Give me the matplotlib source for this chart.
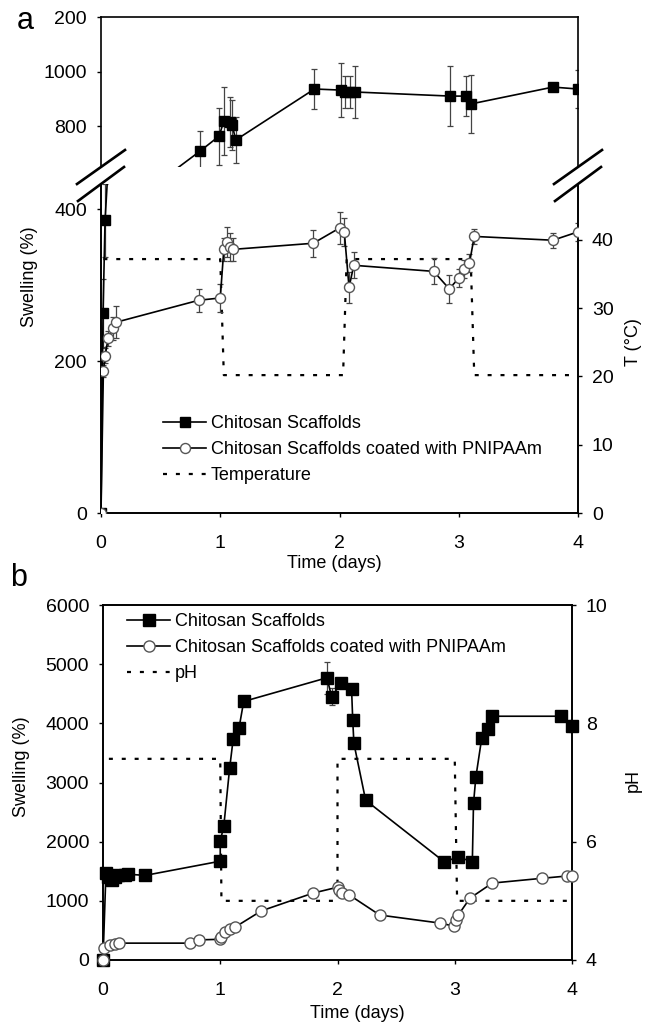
import matplotlib
matplotlib.use('Agg')
import matplotlib.pyplot as plt
from matplotlib.lines import Line2D

plt.rcParams['font.family'] = ['Liberation Sans', 'DejaVu Sans']
plt.rcParams['font.size'] = 13

# ---------------- Panel a data ----------------
a_sq_t = [0, 0.017, 0.034, 0.06, 0.83, 0.99, 1.03, 1.08, 1.10, 1.13, 1.79, 2.01, 2.05, 2.09,
          2.13, 2.93, 3.06, 3.10, 3.79, 4.0]
a_sq_v = [0, 263, 385, 456, 708, 763, 818, 815, 804, 749, 936, 932, 925, 925,
          925, 910, 910, 881, 943, 936]
a_sq_e = [0, 45, 48, 0, 75, 105, 125, 90, 90, 85, 75, 100, 60, 60,
          97, 110, 73, 105, 0, 70]

a_ci_t = [0, 0.02, 0.035, 0.06, 0.10, 0.125, 0.82, 1.0, 1.03, 1.06, 1.08, 1.11, 1.78,
          2.0, 2.04, 2.08, 2.12, 2.79, 2.92, 3.0, 3.04, 3.09, 3.13, 3.79, 4.0]
a_ci_v = [0, 187, 207, 230, 243, 251, 280, 283, 347, 357, 350, 347, 355,
          375, 370, 297, 326, 318, 295, 309, 321, 329, 364, 359, 370]
a_ci_e = [0, 8, 10, 10, 15, 21, 15, 18, 15, 20, 18, 15, 18,
          21, 18, 20, 17, 17, 18, 12, 12, 12, 10, 10, 12]

temp_t = [0.02, 1.0, 1.03, 2.03, 2.06, 3.10, 3.13, 4.0]
temp_v = [37.2, 37.2, 20.2, 20.2, 37.2, 37.2, 20.2, 20.2]

a_top_ticks = [800, 1000, 1200]
a_top_labels = ['800', '1000', '200']
a_bot_ticks = [0, 200, 400]
a_T_ticks = [0, 10, 20, 30, 40]

# ---------------- Panel b data ----------------
b_sq_t = [0, 0.025, 0.04, 0.075, 0.10, 0.13, 0.19, 0.21, 0.36, 1.0, 1.0, 1.03, 1.08, 1.11,
          1.16, 1.20, 1.91, 1.95, 2.03, 2.12, 2.13, 2.14, 2.24, 2.91, 3.03, 3.15, 3.16,
          3.18, 3.23, 3.28, 3.32, 3.91, 4.0]
b_sq_v = [0, 1470, 1400, 1350, 1400, 1440, 1440, 1450, 1430, 1670, 2010, 2260, 3240, 3730,
          3920, 4370, 4770, 4450, 4680, 4580, 4050, 3660, 2700, 1660, 1740, 1660, 2650,
          3090, 3750, 3900, 4120, 4120, 3950]
b_sq_e = [0, 60, 50, 50, 60, 60, 50, 50, 40, 40, 40, 40, 40, 40,
          80, 40, 270, 140, 40, 40, 40, 40, 40, 40, 40, 40, 40,
          40, 40, 40, 40, 60, 100]

b_ci_t = [0, 0.01, 0.06, 0.10, 0.14, 0.74, 0.82, 1.0, 1.01, 1.04, 1.08, 1.13, 1.35, 1.79,
          2.0, 2.01, 2.04, 2.10, 2.36, 2.87, 2.99, 3.01, 3.03, 3.13, 3.32, 3.74, 3.96, 4.0]
b_ci_v = [0, 200, 250, 270, 285, 285, 340, 350, 390, 470, 520, 560, 830, 1130,
          1230, 1180, 1130, 1100, 760, 625, 575, 675, 760, 1045, 1300, 1380, 1420, 1420]

ph_t = [0.05, 1.0, 1.01, 2.0, 2.0, 3.0, 3.02, 4.0]
ph_v = [7.4, 7.4, 5.0, 5.0, 7.4, 7.4, 5.0, 5.0]

b_ticks = [0, 1000, 2000, 3000, 4000, 5000, 6000]
ph_ticks = [4, 6, 8, 10]
x_ticks = [0, 1, 2, 3, 4]

lab_sq = 'Chitosan Scaffolds'
lab_ci = 'Chitosan Scaffolds coated with PNIPAAm'

# ---------------- styles ----------------
W, H = 646, 1027
LW = 1.2
SP = 1.2
TICKFS = 14
LEGFS = 13
LABFS = 13
circ_edge = '#555555'
dash = (0, (1.8, 4.0))

fig = plt.figure(figsize=(W / 100, H / 100), dpi=100)


def fx(px):
    return px / W


def fy(py):
    return 1 - py / H


ax_top = fig.add_axes([fx(101), fy(167), fx(578) - fx(101), fy(17) - fy(167)])
ax_bot = fig.add_axes([fx(101), fy(513), fx(578) - fx(101), fy(184) - fy(513)])
ax_T = ax_bot.twinx()
ax_b = fig.add_axes([fx(103), fy(960), fx(572) - fx(103), fy(605) - fy(960)])
ax_ph = ax_b.twinx()

for ax in (ax_top, ax_bot, ax_T, ax_b, ax_ph):
    for s in ax.spines.values():
        s.set_linewidth(SP)
    ax.tick_params(direction='out', length=3, width=1, labelsize=TICKFS)

# panel a series in both broken parts
for ax in (ax_top, ax_bot):
    ax.errorbar(a_sq_t, a_sq_v, yerr=a_sq_e, fmt='none', ecolor='#444444',
                elinewidth=0.9, capsize=2.5, capthick=0.9, zorder=2)
    ax.errorbar(a_ci_t, a_ci_v, yerr=a_ci_e, fmt='none', ecolor='#444444',
                elinewidth=0.9, capsize=2.5, capthick=0.9, zorder=2)
    ax.plot(a_sq_t, a_sq_v, '-', color='black', lw=LW, marker='s', ms=7.2,
            mfc='black', mec='black', zorder=3)
    ax.plot(a_ci_t, a_ci_v, '-', color='black', lw=LW, marker='o', ms=7.2,
            mfc='white', mec=circ_edge, mew=1.0, zorder=4)
    ax.set_xlim(0, 4)

ax_T.plot(temp_t, temp_v, color='black', lw=1.6, ls=dash)
ax_T.set_zorder(ax_bot.get_zorder() - 1)
ax_bot.patch.set_visible(False)
ax_T.set_ylim(0, 48.2)
ax_T.set_yticks(a_T_ticks)
ax_T.tick_params(axis='y', pad=7)
ax_T.spines['top'].set_visible(False)

ax_top.set_ylim(650, 1200)
ax_top.set_yticks(a_top_ticks)
ax_top.set_yticklabels(a_top_labels)
ax_top.set_xticks([])
ax_top.spines['bottom'].set_visible(False)
ax_top.tick_params(axis='y', pad=7)

ax_bot.set_ylim(0, 433)
ax_bot.set_yticks(a_bot_ticks)
ax_bot.set_xticks(x_ticks)
ax_bot.spines['top'].set_visible(False)
ax_bot.tick_params(axis='y', pad=7)
ax_bot.tick_params(axis='x', pad=13)

# break marks
kw = dict(color='black', lw=1.9, clip_on=False)
dx_t, dy_t = 24 / 477, 17 / 150
for x0 in (0, 1):
    ax_top.plot([x0 - dx_t, x0 + dx_t], [-dy_t, dy_t], transform=ax_top.transAxes, **kw)
dx_b, dy_b = 23 / 477, 17 / 329
for x0 in (0, 1):
    ax_bot.plot([x0 - dx_b, x0 + dx_b], [1 - dy_b, 1 + dy_b], transform=ax_bot.transAxes, **kw)

h_sq = Line2D([], [], color='black', lw=LW, marker='s', ms=7.2, mfc='black', mec='black')
h_ci = Line2D([], [], color='black', lw=LW, marker='o', ms=7.2, mfc='white', mec=circ_edge)
h_T = Line2D([], [], color='black', lw=1.6, ls=dash)
ax_bot.legend([h_sq, h_ci, h_T], [lab_sq, lab_ci, 'Temperature'], loc='upper left',
              bbox_to_anchor=(0.13, 0.297), frameon=False, fontsize=LEGFS,
              borderpad=0, borderaxespad=0, handlelength=2.4, handletextpad=0.25,
              labelspacing=0.5)

# ---------------- panel b ----------------
ax_b.errorbar(b_sq_t, b_sq_v, yerr=b_sq_e, fmt='none', ecolor='#444444',
              elinewidth=0.9, capsize=2.5, capthick=0.9, zorder=2)
ax_b.plot(b_sq_t, b_sq_v, '-', color='black', lw=LW, marker='s', ms=8,
          mfc='black', mec='black', zorder=3, clip_on=False)
ax_b.plot(b_ci_t, b_ci_v, '-', color='black', lw=LW, marker='o', ms=8,
          mfc='white', mec=circ_edge, mew=1.0, zorder=4, clip_on=False)
ax_ph.plot(ph_t, ph_v, color='black', lw=1.6, ls=dash)
ax_ph.set_zorder(ax_b.get_zorder() - 1)
ax_b.patch.set_visible(False)

ax_b.set_xlim(0, 4)
ax_b.set_ylim(0, 6000)
ax_b.set_yticks(b_ticks)
ax_b.set_xticks(x_ticks)
ax_b.tick_params(axis='y', pad=7)
ax_b.tick_params(axis='x', pad=13)
ax_ph.set_ylim(4, 10)
ax_ph.set_yticks(ph_ticks)
ax_ph.tick_params(axis='y', pad=7)

h_sq_b = Line2D([], [], color='black', lw=LW, marker='s', ms=8, mfc='black', mec='black')
h_ci_b = Line2D([], [], color='black', lw=LW, marker='o', ms=8, mfc='white', mec=circ_edge)
ax_b.legend([h_sq_b, h_ci_b, h_T], [lab_sq, lab_ci, 'pH'], loc='upper left',
            bbox_to_anchor=(0.051, 0.977), frameon=False, fontsize=LEGFS,
            borderpad=0, borderaxespad=0, handlelength=2.4, handletextpad=0.25,
            labelspacing=0.5)

# ---------------- labels ----------------
fig.text(fx(30), fy(277), 'Swelling (%)', rotation=90, ha='center', va='center', fontsize=LABFS)
fig.text(fx(633), fy(342), 'T (°C)', rotation=90, ha='center', va='center', fontsize=LABFS)
fig.text(fx(334), fy(563), 'Time (days)', ha='center', va='center', fontsize=LABFS)
fig.text(fx(22), fy(767), 'Swelling (%)', rotation=90, ha='center', va='center', fontsize=LABFS)
fig.text(fx(633), fy(780), 'pH', rotation=90, ha='center', va='center', fontsize=LABFS)
fig.text(fx(357), fy(1013), 'Time (days)', ha='center', va='center', fontsize=LABFS)
fig.text(fx(25), fy(21), 'a', ha='center', va='center', fontsize=22)
fig.text(fx(19), fy(578), 'b', ha='center', va='center', fontsize=22)

fig.savefig('out.png', dpi=100)
